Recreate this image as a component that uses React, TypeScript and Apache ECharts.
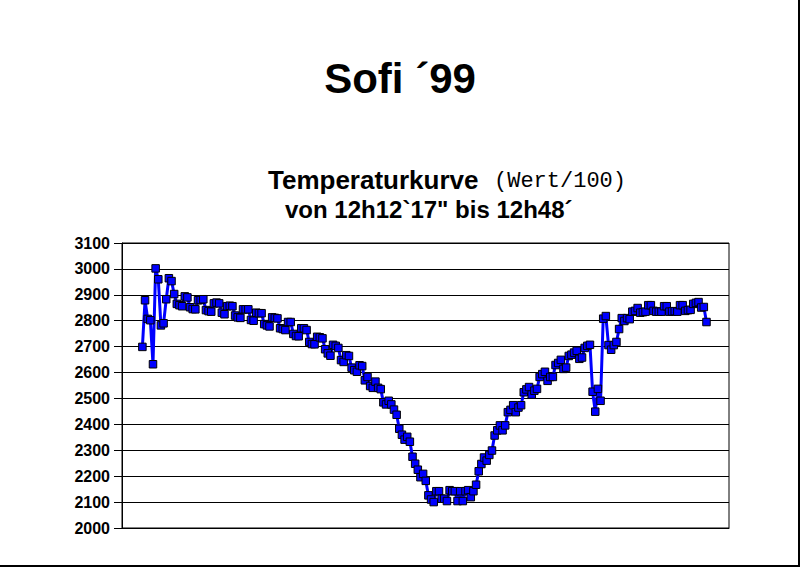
import React, { useEffect, useRef } from "react";
import * as echarts from "echarts";

const TITLE = "Sofi ´99";
const SUB_BOLD = "Temperaturkurve";
const SUB_MONO = "(Wert/100)";
const SUB_LINE2 = "von 12h12`17\" bis 12h48´";

const Y_MIN = 2000;
const Y_MAX = 3100;
const Y_STEP = 100;

// Temperature readings (value/100), one every sample
const temperature: number[] = [
  2699, 2879, 2807, 2802, 2632, 3002, 2960, 2782, 2790, 2883,
  2964, 2953, 2903, 2865, 2860, 2856, 2894, 2890, 2852, 2845,
  2844, 2879, 2880, 2883, 2841, 2837, 2835, 2867, 2870, 2867,
  2831, 2825, 2856, 2858, 2856, 2820, 2813, 2811, 2844, 2844,
  2844, 2803, 2800, 2831, 2829, 2829, 2787, 2782, 2778, 2813,
  2811, 2809, 2771,
  2768, 2764, 2795, 2795, 2749, 2741, 2740, 2771, 2771, 2764,
  2718, 2710, 2709, 2738, 2736, 2732, 2690, 2674, 2665, 2707,
  2703, 2695, 2648, 2641, 2667, 2664, 2619, 2609, 2603, 2628,
  2625, 2570, 2583, 2548, 2541, 2565, 2541, 2536, 2485, 2477,
  2491, 2477, 2457, 2437, 2383, 2360, 2341, 2352, 2333, 2275,
  2248, 2225, 2196, 2209, 2182, 2126, 2110, 2100, 2142, 2142,
  2113, 2113, 2104, 2146, 2142, 2142, 2104, 2142, 2104, 2142,
  2146, 2119, 2142, 2167, 2219, 2247, 2272, 2260, 2282, 2299,
  2357, 2377, 2396, 2377, 2396, 2447, 2456, 2474, 2447, 2465,
  2474, 2524, 2535, 2544, 2515, 2530, 2537, 2583, 2594, 2603,
  2568, 2583, 2583, 2629, 2637, 2649, 2614, 2619, 2664, 2669,
  2677, 2684, 2653, 2658, 2695, 2703, 2707, 2526, 2449, 2537,
  2491, 2808, 2818, 2706, 2688, 2706, 2718, 2768, 2810, 2799,
  2810, 2806, 2835, 2838, 2849, 2831, 2833, 2835, 2860, 2860,
  2838, 2835, 2835, 2835, 2856, 2856, 2835, 2836, 2837, 2835,
  2860, 2860, 2838, 2841, 2842, 2865, 2869, 2872, 2851, 2853,
  2795,
];

const SANS = '"Liberation Sans", Arial, Helvetica, sans-serif';
const MONO = '"Liberation Mono", "Courier New", monospace';

export default function App() {
  const ref = useRef<HTMLDivElement>(null);

  useEffect(() => {
    document.body.style.margin = "0";
    const chart = echarts.init(ref.current!, null, { renderer: "svg" });
    chart.setOption({
      animation: false,
      backgroundColor: "#ffffff",
      grid: {
        left: 122,
        top: 243,
        width: 607,
        height: 285,
        show: true,
        borderColor: "#000",
        borderWidth: 1,
        backgroundColor: "transparent",
      },
      xAxis: {
        type: "value",
        min: -7.7,
        max: temperature.length - 1 + 8.5,
        axisLine: { show: true, onZero: false, lineStyle: { color: "#000", width: 1 } },
        axisTick: { show: false },
        axisLabel: { show: false },
        splitLine: { show: false },
      },
      yAxis: {
        type: "value",
        min: Y_MIN,
        max: Y_MAX,
        interval: Y_STEP,
        axisLine: { show: true, onZero: false, lineStyle: { color: "#000", width: 1 } },
        axisTick: { show: true, inside: false, length: 8, lineStyle: { color: "#000", width: 1 } },
        axisLabel: {
          color: "#000",
          fontFamily: SANS,
          fontWeight: "bold",
          fontSize: 16,
          margin: 12,
          formatter: (v: number) => String(v),
        },
        splitLine: { show: true, lineStyle: { color: "#000", width: 1 } },
      },
      series: [
        {
          type: "line",
          data: temperature.map((v, i) => [i, v]),
          showAllSymbol: true,
          symbol: "rect",
          symbolSize: 7.5,
          itemStyle: { color: "#0000ff", borderColor: "#000", borderWidth: 1 },
          lineStyle: { color: "#0000ff", width: 3 },
        },
      ],
      graphic: [
        {
          type: "text",
          x: 400,
          y: 78,
          style: {
            text: TITLE,
            font: `bold 42px ${SANS}`,
            fill: "#000",
            align: "center",
            verticalAlign: "middle",
          },
        },
        {
          type: "text",
          x: 268,
          y: 180,
          style: {
            text: SUB_BOLD,
            font: `bold 26px ${SANS}`,
            fill: "#000",
            align: "left",
            verticalAlign: "middle",
          },
        },
        {
          type: "text",
          x: 494,
          y: 181,
          style: {
            text: SUB_MONO,
            font: `22px ${MONO}`,
            fill: "#000",
            align: "left",
            verticalAlign: "middle",
          },
        },
        {
          type: "text",
          x: 285,
          y: 209,
          style: {
            text: SUB_LINE2,
            font: `bold 24px ${SANS}`,
            fill: "#000",
            align: "left",
            verticalAlign: "middle",
          },
        },
        {
          type: "line",
          shape: { x1: 799, y1: 0, x2: 799, y2: 567 },
          style: { stroke: "#000", lineWidth: 2 },
        },
        {
          type: "line",
          shape: { x1: 0, y1: 566, x2: 800, y2: 566 },
          style: { stroke: "#000", lineWidth: 2 },
        },
      ],
    });
    return () => chart.dispose();
  }, []);

  return <div ref={ref} style={{ width: 801, height: 568 }} />;
}
